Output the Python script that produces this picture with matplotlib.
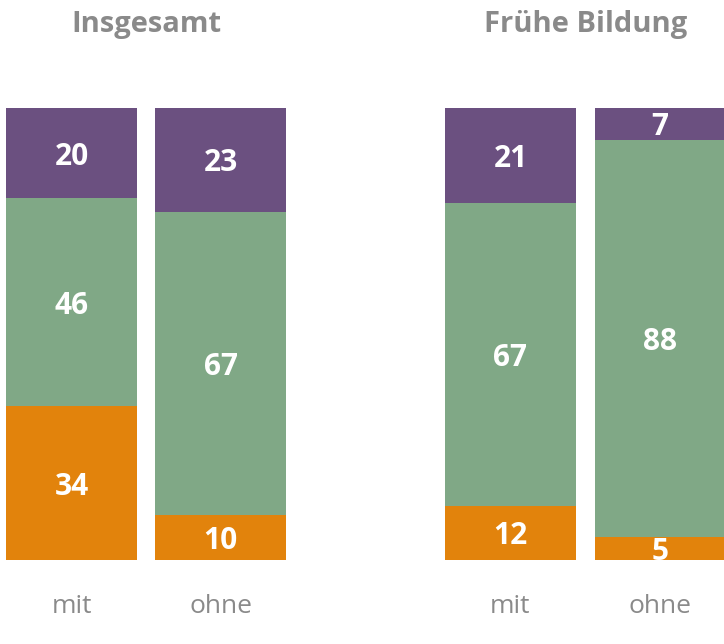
import matplotlib
matplotlib.use("Agg")
import matplotlib.pyplot as plt

groups = ["Insgesamt", "Frühe Bildung"]
categories = ["mit", "ohne", "mit", "ohne"]
orange_vals = [34, 10, 12, 5]
green_vals = [46, 67, 67, 88]
purple_vals = [20, 23, 21, 7]

positions = [0, 1, 2.946, 3.95]
width = 0.879
colors = {"orange": "#E2830C", "green": "#80A886", "purple": "#6B5080"}
gray = "#8A8A8A"

plt.rcParams['font.family'] = ['Open Sans', 'DejaVu Sans']

fig = plt.figure(figsize=(7.24, 6.44), dpi=100)
ax = fig.add_axes([0, 0.1304, 1, 0.7019])
ax.set_xlim(-0.48, 4.379)
ax.set_ylim(0, 100)
ax.axis("off")

for i, x in enumerate(positions):
    bottom = 0
    for vals, c in [(orange_vals, "orange"), (green_vals, "green"), (purple_vals, "purple")]:
        v = vals[i]
        bars = ax.bar(x, v, width=width, bottom=bottom, color=colors[c], linewidth=0)
        t = ax.text(x, bottom + v / 2, str(v), ha="center", va="center_baseline",
                    color="white", fontsize=21.5, fontweight="bold")
        t.set_clip_path(bars[0])
        bottom += v
    ax.text(x, -10.2, categories[i], ha="center", va="center", color=gray,
            fontsize=19, transform=ax.transData, clip_on=False)

for g, (a, b) in zip(groups, [(positions[0], positions[1]), (positions[2], positions[3])]):
    ax.text((a + b) / 2, 118.5, g, ha="center", va="center", color=gray,
            fontsize=21, fontweight="bold", clip_on=False)

fig.savefig("out.png", dpi=100)
